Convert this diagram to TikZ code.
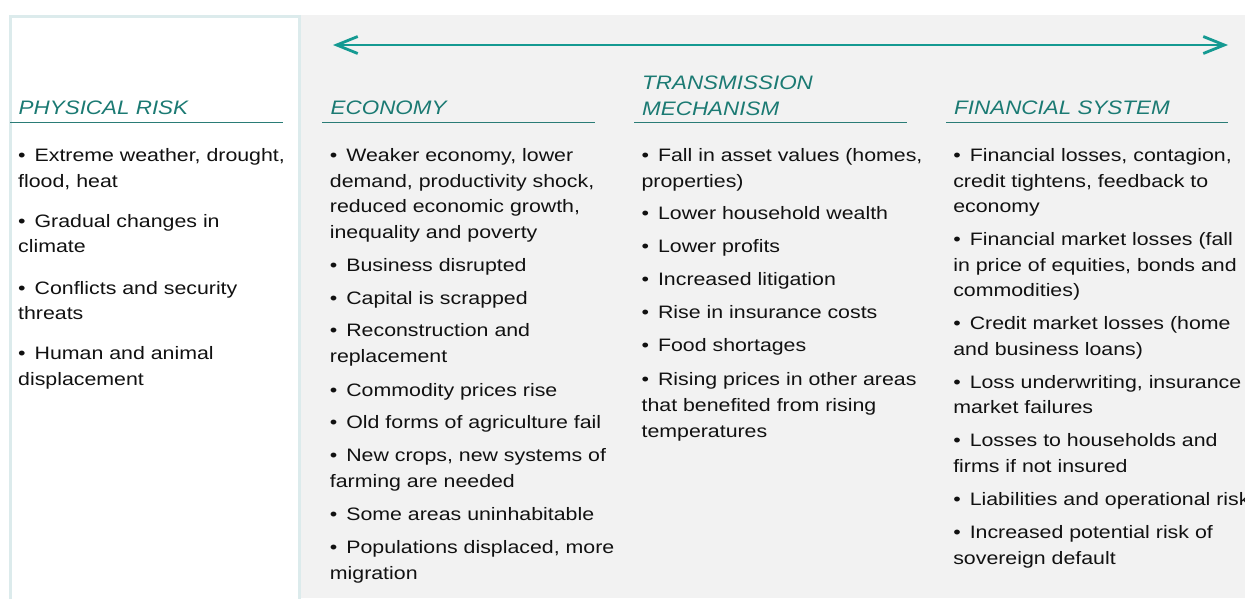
\documentclass[tikz,border=0pt]{standalone}
\usepackage{fontspec}
\setmainfont{Liberation Sans}
\newfontfamily\bodyfont[FakeStretch=1.185]{Liberation Sans}
\newfontfamily\headfont[FakeStretch=1.15]{Liberation Sans}
\usetikzlibrary{arrows.meta}
\definecolor{greybg}{HTML}{F2F2F2}
\definecolor{boxedge}{HTML}{DCEBEC}
\definecolor{headc}{HTML}{1B7A73}
\definecolor{rulec}{HTML}{2A7C76}
\definecolor{arrc}{HTML}{159A92}
\definecolor{bodyc}{HTML}{111111}
\newcommand\bl{\textbullet\hspace{9pt}}
\begin{document}
\begin{tikzpicture}[x=1pt,y=-1pt,
  body/.style={anchor=base west,inner sep=0pt,text=bodyc,font=\bodyfont\fontsize{18}{22}\selectfont},
  head/.style={anchor=base west,inner sep=0pt,text=headc,font=\headfont\itshape\fontsize{19.5}{24}\selectfont},
  hrule/.style={draw=rulec,line width=1.3pt},
  arr/.style={draw=arrc,line width=2.8pt,{Straight Barb[length=21pt,width=17pt]}-{Straight Barb[length=21pt,width=17pt]}}]
\useasboundingbox (0,0) rectangle (1245,598);
\fill[white] (0,0) rectangle (1245,598);
\fill[greybg] (300,15) rectangle (1245,598);
\filldraw[draw=boxedge,fill=white,line width=3pt] (10.5,605) -- (10.5,16.5) -- (299.5,16.5) -- (299.5,605);
% arrow
\coordinate (al) at (333,45);
\coordinate (ar) at (1228,45);
\draw[arr] (al) -- (ar);
% headings
\node[head] (h1) at (18.5,114) {PHYSICAL RISK};
\node[head] (h2) at (330.5,114) {ECONOMY};
\node[head] (h3a) at (642,89.5) {TRANSMISSION};
\node[head] (h3b) at (642,115) {MECHANISM};
\node[head] (h4) at (954,114) {FINANCIAL SYSTEM};
% rules
\coordinate (u1a) at (10,122.5); \coordinate (u1b) at (283,122.5);
\coordinate (u2a) at (322,122.5); \coordinate (u2b) at (595,122.5);
\coordinate (u3a) at (634,122.5); \coordinate (u3b) at (907,122.5);
\coordinate (u4a) at (946,122.5); \coordinate (u4b) at (1228,122.5);
\draw[hrule] (u1a) -- (u1b);
\draw[hrule] (u2a) -- (u2b);
\draw[hrule] (u3a) -- (u3b);
\draw[hrule] (u4a) -- (u4b);
% column 1
\foreach \t/\y [count=\i] in {
  {\bl Extreme weather, drought,}/161.5,
  {flood, heat}/187.5,
  {\bl Gradual changes in}/227.5,
  {climate}/252.5,
  {\bl Conflicts and security}/294.5,
  {threats}/319.5,
  {\bl Human and animal}/359.5,
  {displacement}/385.5}
  {\node[body] (a\i) at (18,\y) {\t};}
% column 2
\foreach \t/\y [count=\i] in {
  {\bl Weaker economy, lower}/161.5,
  {demand, productivity shock,}/187.5,
  {reduced economic growth,}/212.5,
  {inequality and poverty}/238.5,
  {\bl Business disrupted}/271.5,
  {\bl Capital is scrapped}/304.5,
  {\bl Reconstruction and}/336.5,
  {replacement}/362.5,
  {\bl Commodity prices rise}/396.5,
  {\bl Old forms of agriculture fail}/428.5,
  {\bl New crops, new systems of}/461.5,
  {farming are needed}/487.5,
  {\bl Some areas uninhabitable}/520.5,
  {\bl Populations displaced, more}/553.5,
  {migration}/579.5}
  {\node[body] (b\i) at (329.7,\y) {\t};}
% column 3
\foreach \t/\y [count=\i] in {
  {\bl Fall in asset values (homes,}/161.5,
  {properties)}/187.5,
  {\bl Lower household wealth}/219.5,
  {\bl Lower profits}/252.5,
  {\bl Increased litigation}/285.5,
  {\bl Rise in insurance costs}/318.5,
  {\bl Food shortages}/351.5,
  {\bl Rising prices in other areas}/385.5,
  {that benefited from rising}/411.5,
  {temperatures}/437.5}
  {\node[body] (c\i) at (641.4,\y) {\t};}
% column 4
\foreach \t/\y [count=\i] in {
  {\bl Financial losses, contagion,}/161.5,
  {credit tightens, feedback to}/187.5,
  {economy}/212.5,
  {\bl Financial market losses (fall}/245.5,
  {in price of equities, bonds and}/271.5,
  {commodities)}/296.5,
  {\bl Credit market losses (home}/329.5,
  {and business loans)}/355.5,
  {\bl Loss underwriting, insurance}/388.5,
  {market failures}/413.5,
  {\bl Losses to households and}/446.5,
  {firms if not insured}/472.5,
  {\bl Liabilities and operational risk}/505.5,
  {\bl Increased potential risk of}/538.5,
  {sovereign default}/564.5}
  {\node[body] (d\i) at (953.1,\y) {\t};}
\end{tikzpicture}
\end{document}
